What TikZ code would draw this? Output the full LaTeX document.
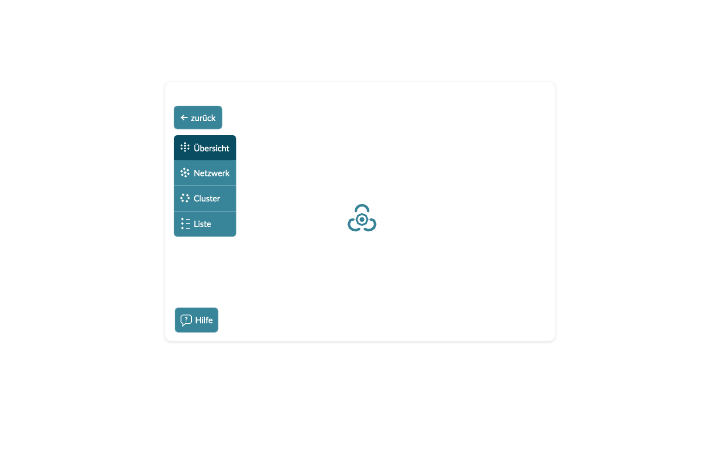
\documentclass[tikz,border=0pt]{standalone}
\usepackage{fontspec}
\setmainfont[FakeBold=0.25]{Lato}
\usepackage{tikz}
\usetikzlibrary{positioning,calc}
\definecolor{btnteal}{RGB}{56,133,153}
\definecolor{darkteal}{RGB}{8,77,97}
\definecolor{rowline}{RGB}{96,160,176}
\tikzset{
  card/.style={rectangle,rounded corners=6pt,fill=white,minimum width=390pt,minimum height=259pt,inner sep=0pt},
  btn/.style={rectangle,rounded corners=3pt,fill=btnteal,draw=btnteal!70!white,line width=.4pt,inner sep=0pt},
  lbl/.style={text=white,font=\fontsize{8.4}{10}\selectfont,inner sep=0pt,anchor=west},
  ico/.style={white,line width=.7pt},
  logo/.style={draw=btnteal,line width=2.4pt,line cap=round},
}
% ring of small dots for the menu icons
\newcommand{\dotring}[2]{\foreach \a in {#2} \fill[white] ($(#1)+(\a:3.7)$) circle (1.25pt);}
\begin{document}
\begin{tikzpicture}[x=1pt,y=-1pt]
  \useasboundingbox (0,0) rectangle (720,461);
  % card with soft shadow
  \foreach \s/\c in {3/98.5,2/96,1/92} {
    \fill[white!\c!black,rounded corners=7pt] (165-\s+.8,82-\s+1.5) rectangle (555+\s-.8,341+\s);
  }
  \node[card] (panel) at (360,211.5) {};
  \node[btn,minimum width=48pt,minimum height=23pt] (back) at (198,117.5) {};
  \node[lbl] (backlbl) at (190.8,117.8) {zurück};
  \coordinate (arrowtip) at (181.5,117.5);
  \coordinate (arrowend) at (187.5,117.5);
  \draw[ico,line width=.9pt] (arrowend) -- (arrowtip) -- ++(2.5,-2.5) (arrowtip) -- ++(2.5,2.5);
  % menu
  \node[btn,minimum width=62pt,minimum height=101pt] (menu) at (205,186) {};
  \fill[darkteal,rounded corners=3pt] (174.2,160) -- (174.2,135.2) -- (235.8,135.2) -- (235.8,160) -- cycle;
  \fill[darkteal] (174.2,155) rectangle (235.8,160);
  \draw[rowline,line width=.5pt] (174.4,185.5) -- (235.6,185.5);
  \draw[rowline,line width=.5pt] (174.4,211) -- (235.6,211);
  \node[lbl] (uebersicht) at (193.5,147.5) {Übersicht};
  \node[lbl] (netzwerk) at (193.5,173) {Netzwerk};
  \node[lbl] (cluster) at (193.5,198.3) {Cluster};
  \node[lbl] (liste) at (193.5,223.8) {Liste};
  \coordinate (icoa) at (185,147);
  \coordinate (icob) at (185,172.5);
  \coordinate (icoc) at (185,198);
  \foreach \dx/\dy in {-3.4/-1.6,-3.4/1.6,0/-3.8,0/-1.3,0/1.3,0/3.8,3.4/-1.6,3.4/1.6} {
    \fill[white] (icoa)+(\dx,\dy) circle (1.05pt);
  }
  \dotring{icob}{20,80,140,200,260,320}
  \fill[white] (icob) circle (1.5pt);
  \dotring{icoc}{60,130,240,310,0,180}
  \foreach \y in {219,223.5,228} {
    \fill[white] (182.3,\y) circle (1.25pt);
    \draw[ico,line width=.5pt,white!75!btnteal] (185.5,\y) -- (190,\y);
  }
  % logo in the middle
  \coordinate (logoc) at (362,219.5);
  \draw[logo] (355.8,211.2) arc (180:360:6.2 and 6);
  \draw[logo] (353.6,219.5) .. controls (350.3,219.2) and (348.8,221.5) .. (348.8,224.2)
     .. controls (348.8,229.5) and (355.5,231.8) .. (359.4,229);
  \draw[logo] (370.4,219.5) .. controls (373.7,219.2) and (375.2,221.5) .. (375.2,224.2)
     .. controls (375.2,229.5) and (368.5,231.8) .. (364.6,229);
  \draw[draw=btnteal,line width=1.7pt] (logoc) circle (5.5pt);
  \fill[btnteal] (logoc) circle (2.4pt);
  % help button
  \node[btn,minimum width=43pt,minimum height=24.5pt] (help) at (196.5,320) {};
  \node[lbl] (helplbl) at (195,320) {Hilfe};
  \draw[ico,line width=.6pt,rounded corners=1.5pt] (181,315) rectangle (191.5,323.5);
  \fill[btnteal] (183,323) rectangle (185,324);
  \draw[ico,line width=.6pt] (183,323.5) -- (182.6,326) -- (185.5,323.5);
  \node[text=white,font=\fontsize{6}{6}\selectfont,inner sep=0pt] (helpmark) at (186.2,319.2) {?};
\end{tikzpicture}
\end{document}
